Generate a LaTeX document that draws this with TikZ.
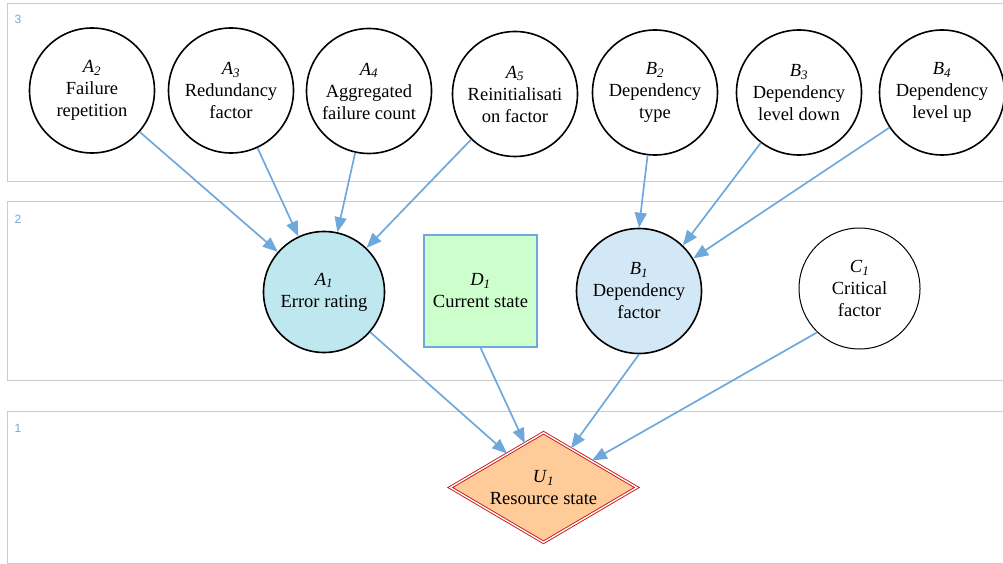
\documentclass[tikz,border=0pt]{standalone}
\usepackage{fontspec}
\setmainfont{Liberation Serif}
\newfontfamily\lblfont{Liberation Sans}
\usetikzlibrary{arrows.meta,shapes.geometric}

\definecolor{edgeblue}{RGB}{111,168,220}
\definecolor{layergray}{RGB}{204,204,204}
\definecolor{errfill}{RGB}{191,231,240}
\definecolor{depfill}{RGB}{211,232,246}
\definecolor{statefill}{RGB}{204,255,204}
\definecolor{utilfill}{RGB}{255,204,153}
\definecolor{utilred}{RGB}{200,20,20}

\tikzset{
  layerbox/.style={draw=layergray, line width=1pt},
  layernum/.style={text=edgeblue, font=\lblfont\fontsize{12}{14}\selectfont, inner sep=0pt},
  txt/.style={align=center, font=\fontsize{18.5}{22}\selectfont, inner sep=0pt},
  chance/.style={txt, circle, draw=black, line width=1.6pt, minimum size=125pt},
  chancethin/.style={txt, circle, draw=black, line width=1pt, minimum size=121pt},
  decision/.style={txt, rectangle, draw=edgeblue, line width=1.4pt, fill=statefill,
                   minimum width=113pt, minimum height=112pt},
  utility/.style={txt, diamond, aspect=1.69, minimum width=187pt, minimum height=110pt,
                  draw=utilred, double=white, double distance=1.4pt, line width=0.9pt,
                  fill=utilfill},
  edge/.style={draw=edgeblue, line width=1.7pt,
               -{Triangle[length=15pt, width=12pt]}},
}

\newcommand{\lab}[2]{\textit{#1}\textsubscript{\textit{#2}}}

\begin{document}
\begin{tikzpicture}[x=1pt, y=-1pt]
  \useasboundingbox (0,0) rectangle (1003,564);
  \clip (0,0) rectangle (1003,564);

  % layers
  \draw[layerbox] (7,4) rectangle (1012,182);
  \draw[layerbox] (7,201) rectangle (1012,380);
  \draw[layerbox] (7,411) rectangle (1012,563);
  \node[layernum] (l3) at (18,19.5) {3};
  \node[layernum] (l2) at (18,219) {2};
  \node[layernum] (l1) at (18,428) {1};

  % layer 3: input factors
  \node[chance] (a2) at (92,90.5)  {\lab{A}{2}\\Failure\\repetition};
  \node[chance] (a3) at (231,90.5) {\lab{A}{3}\\Redundancy\\factor};
  \node[chance] (a4) at (369,91)   {\lab{A}{4}\\Aggregated\\failure count};
  \node[chance] (a5) at (515,94)   {\lab{A}{5}\\Reinitialisati\\on factor};
  \node[chance] (b2) at (655,92.5) {\lab{B}{2}\\Dependency\\type};
  \node[chance] (b3) at (799,92.5) {\lab{B}{3}\\Dependency\\level down};
  \node[chance] (b4) at (942,92.5) {\lab{B}{4}\\Dependency\\level up};

  % layer 2
  \node[chance, fill=errfill, minimum size=121pt] (a1) at (324,292) {\lab{A}{1}\\Error rating};
  \node[decision] (d1) at (480.5,291) {\lab{D}{1}\\Current state};
  \node[chance, fill=depfill] (b1) at (639,291) {\lab{B}{1}\\Dependency\\factor};
  \node[chancethin] (c1) at (859.5,288.5) {\lab{C}{1}\\Critical\\factor};

  % layer 1
  \node[utility] (u1) at (543.5,487.5) {\lab{U}{1}\\Resource state};

  % influences
  \draw[edge] (a2) -- (a1);
  \draw[edge] (a3) -- (a1);
  \draw[edge] (a4) -- (a1);
  \draw[edge] (a5) -- (a1);
  \draw[edge] (b2) -- (b1.north);
  \draw[edge] (b3) -- (b1.46);
  \draw[edge] (b4) -- (b1.31);
  \draw[edge] (a1.-41) -- (u1.137);
  \draw[edge] (d1.south) -- (u1.113);
  \draw[edge] (b1.south) -- (u1.55);
  \draw[edge] (c1.226) -- (u1.29);
\end{tikzpicture}
\end{document}
